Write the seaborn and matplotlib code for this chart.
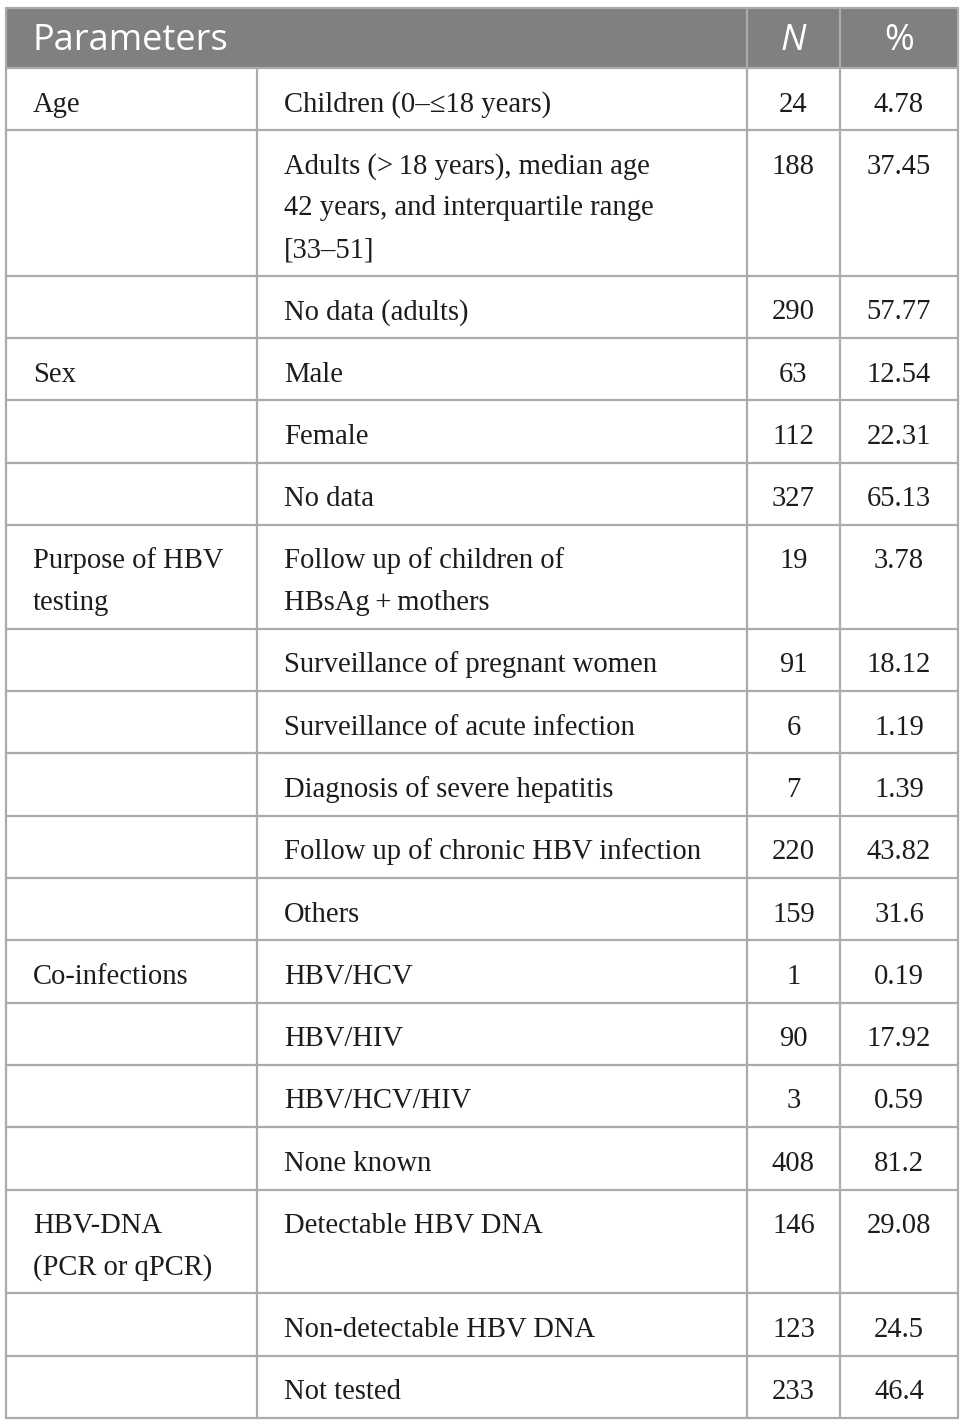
import matplotlib
matplotlib.use("Agg")
import matplotlib.pyplot as plt
import seaborn as sns

# table content
headers = ["Parameters", "N", "%"]
params = ["Age", "", "", "Sex", "", "", "Purpose of HBV\ntesting", "", "", "", "", "",
          "Co-infections", "", "", "", "HBV-DNA\n(PCR or qPCR)", "", ""]
items = ["Children (0\u2013\u226418 years)",
         "Adults (>\u200918 years), median age\n42 years, and interquartile range\n[33\u201351]",
         "No data (adults)",
         "Male", "Female", "No data",
         "Follow up of children of\nHBsAg\u2009+\u2009mothers",
         "Surveillance of pregnant women",
         "Surveillance of acute infection",
         "Diagnosis of severe hepatitis",
         "Follow up of chronic HBV infection",
         "Others",
         "HBV/HCV", "HBV/HIV", "HBV/HCV/HIV", "None known",
         "Detectable HBV DNA", "Non-detectable HBV DNA", "Not tested"]
counts = [24, 188, 290, 63, 112, 327, 19, 91, 6, 7, 220, 159, 1, 90, 3, 408, 146, 123, 233]
pcts = ["4.78", "37.45", "57.77", "12.54", "22.31", "65.13", "3.78", "18.12", "1.19",
        "1.39", "43.82", "31.6", "0.19", "17.92", "0.59", "81.2", "29.08", "24.5", "46.4"]

sns.set_theme(style="white")
plt.rcParams['font.family'] = ['Liberation Serif', 'DejaVu Serif']

W, H = 965, 1424
fig = plt.figure(figsize=(W / 100, H / 100), dpi=100)
ax = fig.add_axes([0, 0, 1, 1])
ax.set_xlim(0, W)
ax.set_ylim(H, 0)
ax.axis("off")

left, right, top = 6, 958, 8
col_x = [left, 257, 747, 840, right]
head_h = 60
base_h, line_h = 62.3, 41.6
grid = "#ababab"
body_size = 20.6
ink = "#1f1b1c"
off = 43.5

# header band
ax.add_patch(plt.Rectangle((left, top), right - left, head_h, color="#808080", lw=0))
hy = top + head_h / 2 + 3
ax.text(33, hy, headers[0], color="white", fontsize=26,
        family="Open Sans", va="center", ha="left")
ax.text((col_x[2] + col_x[3]) / 2, hy, headers[1], color="white",
        fontsize=26, family="Open Sans", style="italic", va="center", ha="center")
ax.text((col_x[3] + col_x[4]) / 2, hy, headers[2], color="white",
        fontsize=26, family="Open Sans", va="center", ha="center")
for x in col_x[2:4]:
    ax.plot([x, x], [top, top + head_h], color=grid, lw=1.6)

y = top + head_h
ys = [y]
for p, it, n, pc in zip(params, items, counts, pcts):
    nlines = max(len(p.split("\n")), len(it.split("\n")))
    h = base_h + line_h * (nlines - 1)
    for i, s in enumerate(p.split("\n")):
        ax.text(33, y + off + i * line_h, s, fontsize=body_size, va="baseline",
                ha="left", color=ink)
    for i, s in enumerate(it.split("\n")):
        ax.text(284, y + off + i * line_h, s, fontsize=body_size, va="baseline",
                ha="left", color=ink)
    ax.text((col_x[2] + col_x[3]) / 2, y + off, str(n), fontsize=body_size,
            va="baseline", ha="center", color=ink)
    ax.text((col_x[3] + col_x[4]) / 2, y + off, pc, fontsize=body_size,
            va="baseline", ha="center", color=ink)
    y += h
    ys.append(y)

bottom = ys[-1]
for yy in ys:
    ax.plot([left, right], [yy, yy], color=grid, lw=1.6)
for x in col_x:
    ax.plot([x, x], [top + head_h, bottom], color=grid, lw=1.6)
ax.plot([left, left], [top, top + head_h], color=grid, lw=1.6)
ax.plot([right, right], [top, top + head_h], color=grid, lw=1.6)
ax.plot([left, right], [top, top], color=grid, lw=1.6)

fig.savefig("out.png", dpi=100, facecolor="white")
